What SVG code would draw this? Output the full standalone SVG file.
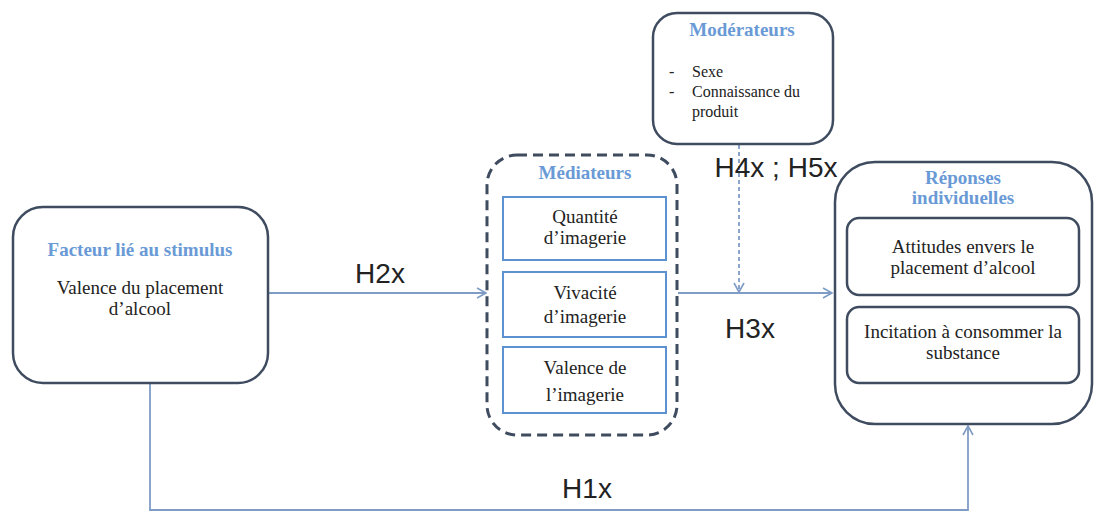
<svg xmlns="http://www.w3.org/2000/svg" width="1096" height="514" viewBox="0 0 1096 514">
<style>
.box{fill:#fff;stroke:#3f4c60;stroke-width:2.5}
.inner{fill:#fff;stroke:#5b92cf;stroke-width:2}
.title{font-family:"Liberation Serif",serif;font-weight:bold;font-size:19px;fill:#6a9ad6;text-anchor:middle}
.body{font-family:"Liberation Serif",serif;font-size:19px;fill:#222;text-anchor:middle}
.small{font-family:"Liberation Serif",serif;font-size:16px;fill:#222}
.hl{font-family:"Liberation Sans",sans-serif;font-size:28px;fill:#222;text-anchor:middle}
.conn{fill:none;stroke:#7f9cc6;stroke-width:1.8}
</style>
<defs>
<marker id="arr" markerWidth="12" markerHeight="12" refX="10" refY="6" orient="auto" markerUnits="userSpaceOnUse">
<path d="M1,1 L10,6 L1,11" fill="none" stroke="#7f9cc6" stroke-width="1.6"/>
</marker>
</defs>
<rect width="1096" height="514" fill="#fff"/>
<g id="connectors">
<line class="conn" x1="268" y1="293" x2="486" y2="293" marker-end="url(#arr)"/>
<line class="conn" x1="678" y1="293" x2="832" y2="293" marker-end="url(#arr)"/>
<line class="conn" x1="739" y1="145" x2="739" y2="292" stroke-dasharray="4,3" stroke-width="1.4" marker-end="url(#arr)"/>
<polyline class="conn" points="150,383 150,510 968,510 968,426" marker-end="url(#arr)"/>
<text class="hl" x="380" y="283">H2x</text>
<text class="hl" x="750" y="338">H3x</text>
<text class="hl" x="776" y="177">H4x ; H5x</text>
<text class="hl" x="587" y="498">H1x</text>
</g>
<g id="stimulus">
<rect class="box" x="13" y="207" width="255" height="176" rx="30"/>
<text class="title" x="140" y="256">Facteur lié au stimulus</text>
<text class="body" x="140" y="294">Valence du placement</text>
<text class="body" x="140" y="315">d’alcool</text>
</g>
<g id="moderateurs">
<rect class="box" x="653" y="13" width="180" height="131" rx="24"/>
<text class="title" x="742" y="36">Modérateurs</text>
<text class="small" x="669" y="77">-</text>
<text class="small" x="692" y="77">Sexe</text>
<text class="small" x="669" y="97">-</text>
<text class="small" x="692" y="97">Connaissance du</text>
<text class="small" x="692" y="117">produit</text>
</g>
<g id="mediateurs">
<rect x="487" y="155" width="190" height="280" rx="30" fill="#fff" stroke="#3f4c60" stroke-width="3" stroke-dasharray="10,6"/>
<text class="title" x="585" y="179">Médiateurs</text>
<rect class="inner" x="503" y="197" width="163" height="63"/>
<text class="body" x="585" y="223">Quantité</text>
<text class="body" x="585" y="244">d’imagerie</text>
<rect class="inner" x="503" y="272" width="163" height="65"/>
<text class="body" x="585" y="299">Vivacité</text>
<text class="body" x="585" y="323">d’imagerie</text>
<rect class="inner" x="503" y="347" width="163" height="66"/>
<text class="body" x="585" y="374">Valence de</text>
<text class="body" x="585" y="401">l’imagerie</text>
</g>
<g id="reponses">
<rect class="box" x="835" y="162" width="257" height="262" rx="40"/>
<text class="title" x="963" y="184">Réponses</text>
<text class="title" x="963" y="204">individuelles</text>
<rect class="box" x="847" y="218" width="232" height="77" rx="12"/>
<text class="body" x="963" y="253">Attitudes envers le</text>
<text class="body" x="963" y="274">placement d’alcool</text>
<rect class="box" x="847" y="307" width="232" height="76" rx="12"/>
<text class="body" x="963" y="338">Incitation à consommer la</text>
<text class="body" x="963" y="359">substance</text>
</g>
</svg>
